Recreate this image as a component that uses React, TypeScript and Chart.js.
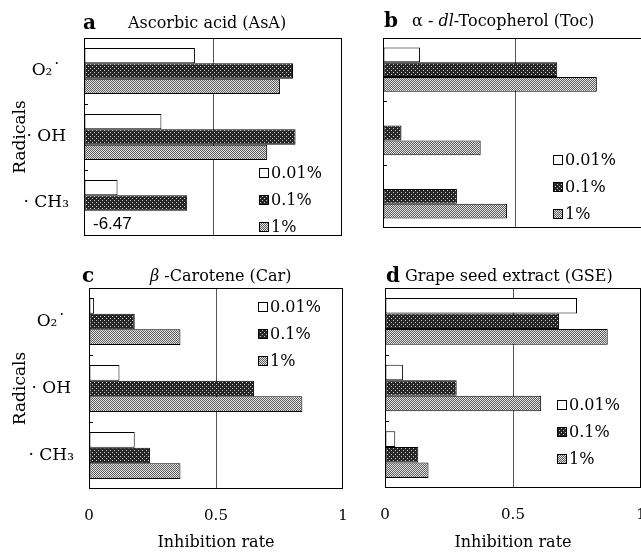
import React, { useEffect, useRef } from 'react';
import { Chart, registerables } from 'chart.js';

Chart.register(...registerables);

const radicals = ['O₂˙', '· OH', '· CH₃'];
const concentrations = ['0.01%', '0.1%', '1%'];
const xTickValues = [0, 0.5, 1];

// Ascorbic acid (AsA)
const asaLow = [0.43, 0.3, 0.13];
const asaMid = [0.81, 0.82, 0.4];
const asaHigh = [0.76, 0.71, -6.47];

// alpha-dl-Tocopherol (Toc)
const tocLow = [0.14, null, null];
const tocMid = [0.66, 0.07, 0.28];
const tocHigh = [0.81, 0.37, 0.47];

// beta-Carotene (Car)
const carLow = [0.02, 0.12, 0.18];
const carMid = [0.18, 0.65, 0.24];
const carHigh = [0.36, 0.84, 0.36];

// Grape seed extract (GSE)
const gseLow = [0.75, 0.07, 0.04];
const gseMid = [0.68, 0.28, 0.13];
const gseHigh = [0.87, 0.61, 0.17];

const SERIF = '"DejaVu Serif", serif';

function makeTile(base: string, dot: string, dots: number[][], size: number) {
  const c = document.createElement('canvas');
  c.width = size;
  c.height = size;
  const g = c.getContext('2d')!;
  g.fillStyle = base;
  g.fillRect(0, 0, size, size);
  g.fillStyle = dot;
  dots.forEach(([x, y]) => g.fillRect(x, y, 1, 1));
  return c;
}

const framePlugin = {
  id: 'frame',
  afterDatasetsDraw(chart: any) {
    const { ctx, chartArea } = chart;
    const { left, top, right, bottom } = chartArea;
    ctx.save();
    ctx.strokeStyle = '#000';
    ctx.lineWidth = 1;
    ctx.strokeRect(Math.round(left) + 0.5, Math.round(top) + 0.5, Math.round(right - left) - 1, Math.round(bottom - top) - 1);
    const ys = chart.scales.y;
    const n = chart.data.labels.length;
    ctx.beginPath();
    for (let i = 0; i < n - 1; i++) {
      const yb = Math.round((ys.getPixelForValue(i) + ys.getPixelForValue(i + 1)) / 2) + 0.5;
      ctx.moveTo(left, yb);
      ctx.lineTo(left + 4, yb);
    }
    ctx.stroke();
    ctx.restore();
  },
};

const panelLegendPlugin = {
  id: 'panelLegend',
  afterDraw(chart: any, _args: any, opts: any) {
    const { ctx, chartArea } = chart;
    ctx.save();
    chart.data.datasets.forEach((ds: any, i: number) => {
      const x = Math.round(chartArea.left + opts.dx);
      const y = Math.round(chartArea.top + opts.dy + i * opts.gap);
      ctx.fillStyle = ds.backgroundColor;
      ctx.fillRect(x, y - 5, 10, 10);
      ctx.strokeStyle = '#000';
      ctx.lineWidth = 1;
      ctx.strokeRect(x + 0.5, y - 4.5, 9, 9);
      ctx.fillStyle = '#000';
      ctx.font = '16px ' + SERIF;
      ctx.textBaseline = 'middle';
      ctx.textAlign = 'left';
      ctx.fillText(ds.label, x + 12, y + 1);
    });
    ctx.restore();
  },
};

const offScaleLabelPlugin = {
  id: 'offScaleLabel',
  afterDraw(chart: any) {
    const { ctx, chartArea } = chart;
    const min = chart.scales.x.min;
    ctx.save();
    chart.data.datasets.forEach((ds: any, di: number) => {
      const meta = chart.getDatasetMeta(di);
      ds.data.forEach((v: any, i: number) => {
        if (v !== null && v < min) {
          const el = meta.data[i];
          ctx.fillStyle = '#000';
          ctx.font = '17px "Liberation Sans", sans-serif';
          ctx.textBaseline = 'middle';
          ctx.textAlign = 'left';
          ctx.fillText(String(v), chartArea.left + 9, el.y + 6);
        }
      });
    });
    ctx.restore();
  },
};

type PanelSpec = {
  low: (number | null)[];
  mid: (number | null)[];
  high: (number | null)[];
  x: number;
  y: number;
  w: number;
  h: number;
  yWidth: number;
  xHeight: number;
  padTop: number;
  padRight: number;
  showY: boolean;
  showX: boolean;
  legend: { dx: number; dy: number; gap: number };
};

function Panel(p: PanelSpec) {
  const ref = useRef<HTMLCanvasElement>(null);
  useEffect(() => {
    const canvas = ref.current!;
    const ctx = canvas.getContext('2d')!;
    const dark = ctx.createPattern(makeTile('#262626', '#cfcfcf', [[0, 0], [2, 2]], 4), 'repeat');
    const light = ctx.createPattern(makeTile('#e4e4e4', '#5c5c5c', [[0, 0], [1, 1]], 2), 'repeat');
    const common = { borderColor: '#000', borderWidth: 1, borderSkipped: false };
    const chart = new Chart(canvas, {
      type: 'bar',
      data: {
        labels: radicals,
        datasets: [
          { label: concentrations[0], data: p.low, backgroundColor: '#ffffff', ...common },
          { label: concentrations[1], data: p.mid, backgroundColor: dark, ...common },
          { label: concentrations[2], data: p.high, backgroundColor: light, ...common },
        ] as any,
      },
      options: {
        indexAxis: 'y',
        animation: false,
        responsive: false,
        maintainAspectRatio: false,
        layout: { padding: { top: p.padTop, right: p.padRight, left: 0, bottom: 0 } },
        datasets: { bar: { categoryPercentage: 0.7, barPercentage: 1 } },
        scales: {
          x: {
            type: 'linear',
            min: xTickValues[0],
            max: xTickValues[xTickValues.length - 1],
            afterBuildTicks: (s: any) => {
              s.ticks = xTickValues.map((v) => ({ value: v }));
            },
            ticks: {
              display: p.showX,
              padding: 18,
              color: '#000',
              font: { family: SERIF, size: 15 },
              callback: (v: any) => String(v),
            },
            grid: {
              drawTicks: false,
              color: (c: any) => (c.tick && c.tick.value === 0.5 ? '#555' : 'rgba(0,0,0,0)'),
              lineWidth: 1,
            },
            border: { display: false },
            title: {
              display: p.showX,
              text: 'Inhibition rate',
              color: '#000',
              font: { family: SERIF, size: 16 },
              padding: { top: 0, bottom: 3 },
            },
            afterFit: (s: any) => {
              s.height = p.xHeight;
              s.paddingLeft = 0;
              s.paddingRight = 0;
            },
          },
          y: {
            ticks: {
              display: p.showY,
              crossAlign: 'center',
              padding: 7,
              color: '#000',
              font: { family: SERIF, size: 17 },
            },
            grid: { display: false },
            border: { display: false },
            title: {
              display: p.showY,
              text: 'Radicals',
              color: '#000',
              font: { family: SERIF, size: 17 },
              padding: { top: 10, bottom: 0 },
            },
            afterFit: (s: any) => {
              s.width = p.yWidth;
              s.paddingTop = 0;
              s.paddingBottom = 0;
            },
          },
        } as any,
        plugins: {
          legend: { display: false },
          tooltip: { enabled: false },
          panelLegend: p.legend,
        } as any,
      },
      plugins: [framePlugin, panelLegendPlugin, offScaleLabelPlugin],
    } as any);
    return () => chart.destroy();
  }, []);
  return (
    <canvas
      ref={ref}
      width={p.w}
      height={p.h}
      style={{ position: 'absolute', left: p.x, top: p.y, width: p.w, height: p.h }}
    />
  );
}

const textBase: React.CSSProperties = {
  position: 'absolute',
  fontFamily: SERIF,
  lineHeight: 1,
  whiteSpace: 'nowrap',
  color: '#000',
};

function Heading({ letter, x, lx, y, children }: { letter: string; x: number; lx: number; y: number; children: React.ReactNode }) {
  return (
    <>
      <div style={{ ...textBase, left: lx, top: y - 3, fontSize: 20, fontWeight: 'bold' }}>{letter}</div>
      <div style={{ ...textBase, left: x, top: y, fontSize: 16 }}>{children}</div>
    </>
  );
}

export default function App() {
  return (
    <div style={{ position: 'absolute', left: 0, top: 0, width: 641, height: 555, overflow: 'hidden', background: '#fff' }}>
      <Panel
        low={asaLow} mid={asaMid} high={asaHigh}
        x={0} y={30} w={346} h={215}
        yWidth={84} xHeight={9} padTop={8} padRight={4}
        showY={true} showX={false}
        legend={{ dx: 175, dy: 135, gap: 27 }}
      />
      <Panel
        low={tocLow} mid={tocMid} high={tocHigh}
        x={375} y={30} w={280} h={210}
        yWidth={8} xHeight={12} padTop={8} padRight={8}
        showY={false} showX={false}
        legend={{ dx: 170, dy: 122, gap: 27 }}
      />
      <Panel
        low={carLow} mid={carMid} high={carHigh}
        x={0} y={280} w={350} h={275}
        yWidth={89} xHeight={66} padTop={8} padRight={7}
        showY={true} showX={true}
        legend={{ dx: 169, dy: 19, gap: 27 }}
      />
      <Panel
        low={gseLow} mid={gseMid} high={gseHigh}
        x={377} y={280} w={283} h={275}
        yWidth={8} xHeight={67} padTop={8} padRight={19}
        showY={false} showX={true}
        legend={{ dx: 172, dy: 117, gap: 27 }}
      />
      <Heading letter="a" lx={83} x={128} y={15}>Ascorbic acid (AsA)</Heading>
      <Heading letter="b" lx={384} x={412} y={13}>
        α - <i>dl</i>-Tocopherol (Toc)
      </Heading>
      <Heading letter="c" lx={82} x={150} y={268}>
        <i>β</i> -Carotene (Car)
      </Heading>
      <Heading letter="d" lx={386} x={405} y={268}>Grape seed extract (GSE)</Heading>
    </div>
  );
}
